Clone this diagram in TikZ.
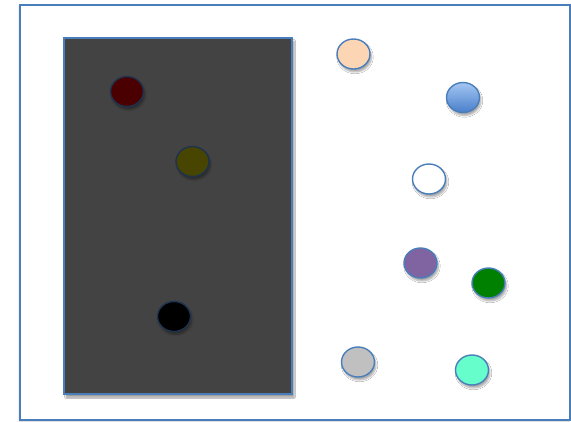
\documentclass[tikz,border=0pt]{standalone}
\usetikzlibrary{shadows.blur}
\definecolor{edgeblue}{HTML}{4A7EBB}
\definecolor{darkedge}{HTML}{1E3350}
\definecolor{panel}{HTML}{434343}
\definecolor{cred}{HTML}{4A0000}
\definecolor{colive}{HTML}{474500}
\definecolor{cpeach}{HTML}{FCD5B5}
\definecolor{cbluetop}{HTML}{A3C6F2}
\definecolor{cbluebot}{HTML}{4A7FCB}
\definecolor{cpurple}{HTML}{8064A2}
\definecolor{cgreen}{HTML}{008000}
\definecolor{cteal}{HTML}{66FFCC}
\definecolor{cgray}{HTML}{C0C0C0}
\tikzset{
  dot/.style={ellipse, minimum width=33pt, minimum height=30pt, inner sep=0pt,
    draw=edgeblue, line width=1.4pt,
    blur shadow={shadow xshift=1.5pt, shadow yshift=-3pt, shadow blur steps=6, shadow opacity=35}},
  darkdot/.style={dot, draw=darkedge},
  framebox/.style={draw=edgeblue, line width=1.5pt},
}
\usetikzlibrary{shapes.geometric}
\begin{document}
\begin{tikzpicture}[x=1pt,y=-1pt]
\useasboundingbox (0,0) rectangle (571,421);
\node[framebox, fill=white, minimum width=550pt, minimum height=415pt, inner sep=0pt,
  blur shadow={shadow xshift=-1pt, shadow yshift=-1pt, shadow opacity=20}] (frame) at (295,212.5) {};
\node[framebox, fill=panel, minimum width=228pt, minimum height=356pt, inner sep=0pt,
  blur shadow={shadow xshift=2pt, shadow yshift=-3pt, shadow opacity=40}] (panelbox) at (178,216) {};
\node[darkdot, fill=cred] (red) at (127,91.5) {};
\node[darkdot, fill=colive] (olive) at (192.5,161.5) {};
\node[darkdot, fill=black] (blk) at (174,316.5) {};
\node[dot, fill=cpeach] (peach) at (353.5,54) {};
\node[dot, top color=cbluetop, bottom color=cbluebot] (blue) at (463,97.5) {};
\node[dot, fill=white] (wht) at (429,179) {};
\node[dot, fill=cpurple] (purple) at (420.5,263) {};
\node[dot, fill=cgreen] (green) at (488.5,283) {};
\node[dot, fill=cgray] (gray) at (358,362) {};
\node[dot, fill=cteal] (teal) at (472,370) {};
\end{tikzpicture}
\end{document}
